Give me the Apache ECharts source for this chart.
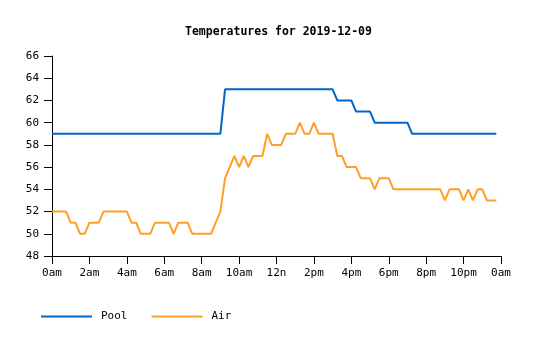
<!DOCTYPE html>
<html>
<head>
<meta charset="utf-8">
<script src="https://cdn.jsdelivr.net/npm/echarts@6/dist/echarts.min.js"></script>
<style>html,body{margin:0;padding:0;background:#fff;}#c{width:535px;height:340px;}</style>
</head>
<body>
<div id="c"></div>
<script>
// Samples every 15 minutes starting at 0:00 (hours)
const stepHours = 0.25;
const poolTemps = [
  59,59,59,59,59,59,59,59,59,59,59,59,59,59,59,59,
  59,59,59,59,59,59,59,59,59,59,59,59,59,59,59,59,
  59,59,59,59,59,63,63,63,63,63,63,63,63,63,63,63,
  63,63,63,63,63,63,63,63,63,63,63,63,63,62,62,62,
  62,61,61,61,61,60,60,60,60,60,60,60,60,59,59,59,
  59,59,59,59,59,59,59,59,59,59,59,59,59,59,59,59
];
const airTemps = [
  52,52,52,52,51,51,50,50,51,51,51,52,52,52,52,52,
  52,51,51,50,50,50,51,51,51,51,50,51,51,51,50,50,
  50,50,50,51,52,55,56,57,56,57,56,57,57,57,59,58,
  58,58,59,59,59,60,59,59,60,59,59,59,59,57,57,56,
  56,56,55,55,55,54,55,55,55,54,54,54,54,54,54,54,
  54,54,54,54,53,54,54,54,53,54,53,54,54,53,53,53
];
const xTickLabels = ['0am','2am','4am','6am','8am','10am','12n','2pm','4pm','6pm','8pm','10pm','0am'];
const seriesNames = ['Pool', 'Air'];
const colors = ['#0066cc', '#ff9f27'];

const toPairs = arr => arr.map((v, i) => [i * stepHours, v]);
const FONT = 'DejaVu Sans Mono';

const chart = echarts.init(document.getElementById('c'), null, {renderer: 'canvas'});
chart.setOption({
  animation: false,
  color: colors,
  title: {
    text: 'Temperatures for 2019-12-09',
    left: 180, top: 21,
    textStyle: {fontFamily: FONT, fontSize: 11.5, fontWeight: 'bold', color: '#000'}
  },
  legend: {
    left: 36, top: 306,
    itemWidth: 51, itemHeight: 2, itemGap: 24,
    icon: 'rect',
    textStyle: {fontFamily: FONT, fontSize: 11, color: '#000', padding: [0, 0, 0, 4]},
    data: seriesNames
  },
  grid: {left: 52, right: 34, top: 56, bottom: 84, containLabel: false},
  xAxis: {
    type: 'value', min: 0, max: 24, interval: 2,
    axisLine: {lineStyle: {color: '#000', width: 1}},
    axisTick: {length: 8, lineStyle: {color: '#000'}},
    splitLine: {show: false},
    axisLabel: {
      margin: 12, color: '#000', fontFamily: FONT, fontSize: 11,
      formatter: v => xTickLabels[Math.round(v / 2)]
    }
  },
  yAxis: {
    type: 'value', min: 48, max: 66, interval: 2,
    axisLine: {show: true, lineStyle: {color: '#000', width: 1}},
    axisTick: {show: true, length: 8, lineStyle: {color: '#000'}},
    splitLine: {show: false},
    axisLabel: {margin: 13, color: '#000', fontFamily: FONT, fontSize: 11}
  },
  series: [
    {name: seriesNames[0], type: 'line', data: toPairs(poolTemps), showSymbol: false,
     lineStyle: {width: 2, color: colors[0]}, itemStyle: {color: colors[0]}},
    {name: seriesNames[1], type: 'line', data: toPairs(airTemps), showSymbol: false,
     lineStyle: {width: 2, color: colors[1]}, itemStyle: {color: colors[1]}}
  ]
});
</script>
</body>
</html>
